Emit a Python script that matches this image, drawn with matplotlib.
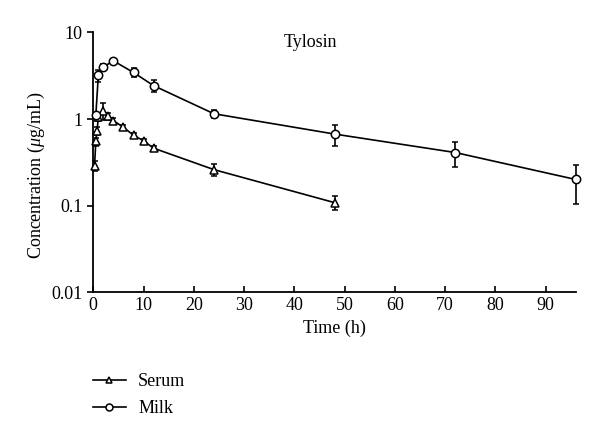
import matplotlib
matplotlib.use("Agg")
import matplotlib.pyplot as plt
from matplotlib.lines import Line2D

plt.rcParams['font.family'] = ['Liberation Serif', 'DejaVu Serif']
plt.rcParams['mathtext.fontset'] = 'custom'
plt.rcParams['mathtext.it'] = 'Liberation Serif:italic'
plt.rcParams['mathtext.rm'] = 'Liberation Serif'

# Serum data
serum_t = [0.25, 0.5, 0.75, 1, 2, 3, 4, 6, 8, 10, 12, 24, 48]
serum_c = [0.29, 0.55, 0.73, 1.05, 1.25, 1.08, 0.96, 0.80, 0.65, 0.56, 0.46, 0.26, 0.108]
serum_err = [0.04, 0.06, 0.08, 0.10, 0.28, 0.10, 0.08, 0.05, 0.04, 0.03, 0.03, 0.04, 0.02]

# Milk data
milk_t = [0.5, 1, 2, 4, 8, 12, 24, 48, 72, 96]
milk_c = [1.10, 3.2, 4.0, 4.7, 3.45, 2.43, 1.15, 0.67, 0.41, 0.20]
milk_err = [0.08, 0.5, 0.3, 0.3, 0.4, 0.38, 0.12, 0.18, 0.13, 0.095]

xticks = [0, 10, 20, 30, 40, 50, 60, 70, 80, 90]
yticks = [0.01, 0.1, 1, 10]
yticklabels = ['0.01', '0.1', '1', '10']

fig = plt.figure(figsize=(6.0, 4.38), dpi=100)
ax = fig.add_axes([0.1555, 0.3333, 0.804, 0.5925])

common = dict(color='black', lw=1.2, mfc='white', mec='black', mew=1.1,
              ecolor='black', elinewidth=1.2, capsize=2.5, capthick=1.2,
              clip_on=False, zorder=3)
ax.errorbar(serum_t, serum_c, yerr=serum_err, marker='^', ms=5.5, **common)
ax.errorbar(milk_t, milk_c, yerr=milk_err, marker='o', ms=6, **common)

ax.set_yscale('log')
ax.set_ylim(0.01, 10)
ax.set_xlim(0, 96)
ax.set_xticks(xticks)
ax.set_yticks(yticks)
ax.set_yticklabels(yticklabels)
ax.yaxis.set_minor_locator(matplotlib.ticker.NullLocator())
ax.tick_params(axis='both', labelsize=13, width=1.2, length=4, color='black')
ax.tick_params(axis='x', direction='in')
ax.tick_params(axis='y', direction='out')
for s in ['top', 'right']:
    ax.spines[s].set_visible(False)
for s in ['left', 'bottom']:
    ax.spines[s].set_linewidth(1.3)

ax.set_xlabel('Time (h)', fontsize=13, labelpad=4)
ax.set_ylabel(r'Concentration ($\mu$g/mL)', fontsize=13)
ax.yaxis.set_label_coords(-0.095, 0.45)
ax.text(0.451, 0.96, 'Tylosin', transform=ax.transAxes, fontsize=13,
        ha='center', va='center')

handles = [
    Line2D([], [], color='black', lw=1.2, marker='^', ms=5, mfc='white', mec='black', mew=1.1),
    Line2D([], [], color='black', lw=1.2, marker='o', ms=5, mfc='white', mec='black', mew=1.1),
]
fig.legend(handles, ['Serum', 'Milk'], loc='upper left',
           bbox_to_anchor=(0.155, 0.148),
           frameon=False, fontsize=13, handlelength=1.8, handletextpad=0.7,
           labelspacing=0.55, borderaxespad=0, borderpad=0)

fig.savefig('out.png', dpi=100)
